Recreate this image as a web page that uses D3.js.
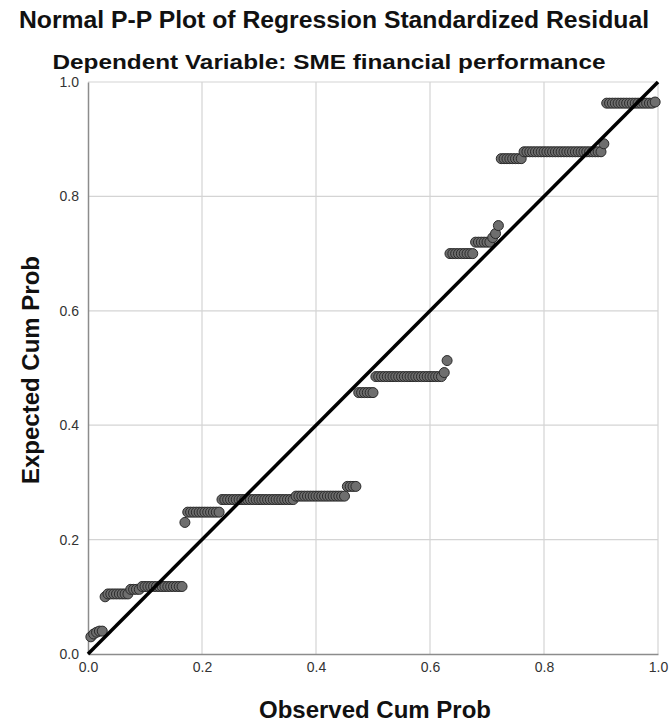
<!DOCTYPE html>
<html>
<head>
<meta charset="utf-8">
<script src="https://cdn.jsdelivr.net/npm/d3@7"></script>
<style>
  html, body { margin: 0; padding: 0; background: #fff; }
  svg { display: block; }
</style>
</head>
<body>
<svg id="chart" width="669" height="725"></svg>
<script>
const titleText = "Normal P-P Plot of Regression Standardized Residual";
const subtitleText = "Dependent Variable: SME financial performance";
const xLabel = "Observed Cum Prob";
const yLabel = "Expected Cum Prob";
const tickValues = [0, 0.2, 0.4, 0.6, 0.8, 1.0];
const tickLabels = ["0.0", "0.2", "0.4", "0.6", "0.8", "1.0"];

const observed = [
  0.005,0.010,0.015,0.020,0.025,0.030,0.035,0.040,0.045,0.050,
  0.055,0.060,0.065,0.070,0.075,0.080,0.085,0.090,0.095,0.100,
  0.105,0.110,0.115,0.120,0.125,0.130,0.135,0.140,0.145,0.150,
  0.155,0.160,0.165,0.170,0.175,0.180,0.185,0.190,0.195,0.200,
  0.205,0.210,0.215,0.220,0.225,0.230,0.235,0.240,0.245,0.250,
  0.255,0.260,0.265,0.270,0.275,0.280,0.285,0.290,0.295,0.300,
  0.305,0.310,0.315,0.320,0.325,0.330,0.335,0.340,0.345,0.350,
  0.355,0.360,0.365,0.370,0.375,0.380,0.385,0.390,0.395,0.400,
  0.405,0.410,0.415,0.420,0.425,0.430,0.435,0.440,0.445,0.450,
  0.455,0.460,0.465,0.470,0.475,0.480,0.485,0.490,0.495,0.500,
  0.505,0.510,0.515,0.520,0.525,0.530,0.535,0.540,0.545,0.550,
  0.555,0.560,0.565,0.570,0.575,0.580,0.585,0.590,0.595,0.600,
  0.605,0.610,0.615,0.620,0.625,0.630,0.635,0.640,0.645,0.650,
  0.655,0.660,0.665,0.670,0.675,0.680,0.685,0.690,0.695,0.700,
  0.705,0.710,0.715,0.720,0.725,0.730,0.735,0.740,0.745,0.750,
  0.755,0.760,0.765,0.770,0.775,0.780,0.785,0.790,0.795,0.800,
  0.805,0.810,0.815,0.820,0.825,0.830,0.835,0.840,0.845,0.850,
  0.855,0.860,0.865,0.870,0.875,0.880,0.885,0.890,0.895,0.900,
  0.905,0.910,0.915,0.920,0.925,0.930,0.935,0.940,0.945,0.950,
  0.955,0.960,0.965,0.970,0.975,0.980,0.985,0.990,0.995
];

const expected = [
  0.030,0.035,0.038,0.040,0.040,0.100,0.105,0.105,0.105,0.105,
  0.105,0.105,0.105,0.105,0.113,0.113,0.113,0.113,0.118,0.118,
  0.118,0.118,0.118,0.118,0.118,0.118,0.118,0.118,0.118,0.118,
  0.118,0.118,0.118,0.230,0.248,0.248,0.248,0.248,0.248,0.248,
  0.248,0.248,0.248,0.248,0.248,0.248,0.270,0.270,0.270,0.270,
  0.270,0.270,0.270,0.270,0.270,0.270,0.270,0.270,0.270,0.270,
  0.270,0.270,0.270,0.270,0.270,0.270,0.270,0.270,0.270,0.270,
  0.270,0.270,0.276,0.276,0.276,0.276,0.276,0.276,0.276,0.276,
  0.276,0.276,0.276,0.276,0.276,0.276,0.276,0.276,0.276,0.276,
  0.293,0.293,0.293,0.293,0.457,0.457,0.457,0.457,0.457,0.457,
  0.485,0.485,0.485,0.485,0.485,0.485,0.485,0.485,0.485,0.485,
  0.485,0.485,0.485,0.485,0.485,0.485,0.485,0.485,0.485,0.485,
  0.485,0.485,0.485,0.485,0.492,0.513,0.700,0.700,0.700,0.700,
  0.700,0.700,0.700,0.700,0.700,0.720,0.720,0.720,0.720,0.720,
  0.720,0.728,0.735,0.749,0.866,0.866,0.866,0.866,0.866,0.866,
  0.866,0.866,0.878,0.878,0.878,0.878,0.878,0.878,0.878,0.878,
  0.878,0.878,0.878,0.878,0.878,0.878,0.878,0.878,0.878,0.878,
  0.878,0.878,0.878,0.878,0.878,0.878,0.878,0.878,0.878,0.878,
  0.892,0.963,0.963,0.963,0.963,0.963,0.963,0.963,0.963,0.963,
  0.963,0.963,0.963,0.963,0.963,0.963,0.963,0.963,0.965
];

const referenceLine = [[0, 0], [1, 1]];

(function () {
const svg = d3.select("#chart");
const font = "'Liberation Sans', Arial, sans-serif";

const mLeft = 88, mRight = 658, mTop = 82, mBottom = 654;
const x = d3.scaleLinear().domain([0, 1]).range([mLeft, mRight]);
const y = d3.scaleLinear().domain([0, 1]).range([mBottom, mTop]);

// Titles
svg.append("text").attr("x", 334).attr("y", 28)
  .attr("text-anchor", "middle").attr("font-family", font)
  .attr("font-weight", "bold").attr("font-size", 23).attr("fill", "#111")
  .attr("textLength", 630).attr("lengthAdjust", "spacingAndGlyphs")
  .text(titleText);
svg.append("text").attr("x", 329).attr("y", 69)
  .attr("text-anchor", "middle").attr("font-family", font)
  .attr("font-weight", "bold").attr("font-size", 21).attr("fill", "#111")
  .attr("textLength", 553).attr("lengthAdjust", "spacingAndGlyphs")
  .text(subtitleText);

// Gridlines
const grid = svg.append("g");
grid.selectAll("line.v").data(tickValues.slice(1)).enter().append("line")
  .attr("x1", d => x(d)).attr("x2", d => x(d))
  .attr("y1", mTop).attr("y2", mBottom)
  .attr("stroke", "#d4d4d4").attr("stroke-width", 1.2);
grid.selectAll("line.h").data(tickValues.slice(1)).enter().append("line")
  .attr("x1", mLeft).attr("x2", mRight)
  .attr("y1", d => y(d)).attr("y2", d => y(d))
  .attr("stroke", "#d4d4d4").attr("stroke-width", 1.2);

// Axes
const xAxis = d3.axisBottom(x).tickValues(tickValues)
  .tickFormat((d, i) => tickLabels[i]).tickSize(0).tickPadding(8);
const yAxis = d3.axisLeft(y).tickValues(tickValues)
  .tickFormat((d, i) => tickLabels[i]).tickSize(0).tickPadding(9);

const gx = svg.append("g").attr("transform", `translate(0,${mBottom})`).call(xAxis);
const gy = svg.append("g").attr("transform", `translate(${mLeft},0)`).call(yAxis);
[gx, gy].forEach(g => {
  g.select(".domain").attr("stroke", "#8c8c8c").attr("stroke-width", 1.5);
  g.selectAll("text").attr("font-family", font).attr("font-size", 14).attr("fill", "#333");
});

// Points
svg.append("g").selectAll("circle").data(observed).enter().append("circle")
  .attr("cx", (d) => x(d))
  .attr("cy", (d, i) => y(expected[i]))
  .attr("r", 5)
  .attr("fill", "#6e6e6e")
  .attr("stroke", "#2a2a2a")
  .attr("stroke-width", 1);

// Reference line
svg.append("line")
  .attr("x1", x(referenceLine[0][0])).attr("y1", y(referenceLine[0][1]))
  .attr("x2", x(referenceLine[1][0])).attr("y2", y(referenceLine[1][1]))
  .attr("stroke", "#000").attr("stroke-width", 3.5);

// Axis titles
svg.append("text").attr("x", 375).attr("y", 718)
  .attr("text-anchor", "middle").attr("font-family", font)
  .attr("font-weight", "bold").attr("font-size", 24).attr("fill", "#111")
  .text(xLabel);
svg.append("text").attr("transform", "translate(39,370) rotate(-90)")
  .attr("text-anchor", "middle").attr("font-family", font)
  .attr("font-weight", "bold").attr("font-size", 24).attr("fill", "#111")
  .text(yLabel);
})();
</script>
</body>
</html>
